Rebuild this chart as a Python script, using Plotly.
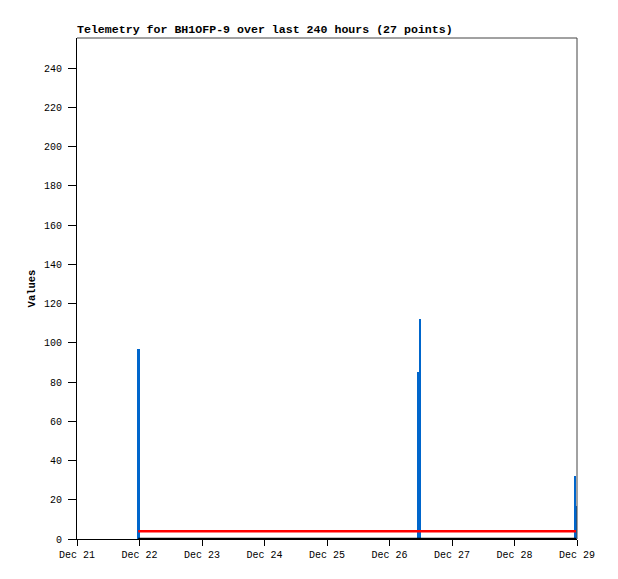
import plotly.graph_objects as go

# ---- data ----
times = [
    "2023-12-21 23:30", "2023-12-21 23:50",
    "2023-12-26 10:49", "2023-12-26 11:08", "2023-12-26 11:43",
    "2023-12-28 23:14", "2023-12-28 23:37",
]
blue_values = [97, 97, 28, 85, 112, 32, 17]
red_values = [4, 4, 4, 4, 4, 4, 4]
black_values = [0, 0, 0, 0, 0, 0, 0]

tick_dates = ["2023-12-21", "2023-12-22", "2023-12-23", "2023-12-24", "2023-12-25",
              "2023-12-26", "2023-12-27", "2023-12-28", "2023-12-29"]
tick_labels = ["Dec 21", "Dec 22", "Dec 23", "Dec 24", "Dec 25",
               "Dec 26", "Dec 27", "Dec 28", "Dec 29"]
y_ticks = [0, 20, 40, 60, 80, 100, 120, 140, 160, 180, 200, 220, 240]

title_text = "Telemetry for BH1OFP-9 over last 240 hours (27 points)"
y_title = "Values"

FONT = "Liberation Mono"
BAR_WIDTH_MS = 52 * 60 * 1000  # a little over 2 px at this scale

fig = go.Figure()
fig.add_trace(go.Bar(x=times, y=blue_values, width=[BAR_WIDTH_MS] * len(times),
                     marker=dict(color="#0066cc", line=dict(width=0)),
                     hoverinfo="x+y", showlegend=False))
fig.add_trace(go.Scatter(x=times, y=red_values, mode="lines",
                         line=dict(color="#ff0000", width=2.5), showlegend=False))
fig.add_trace(go.Scatter(x=times, y=black_values, mode="lines",
                         line=dict(color="#000000", width=2.5), showlegend=False))

# page body has an 8px margin, so the figure is shrunk by 8px on each side
fig.update_layout(
    width=610, height=571,
    margin=dict(l=69, r=41, t=30, b=40),
    paper_bgcolor="white", plot_bgcolor="white",
    barmode="overlay", bargap=0,
    font=dict(family=FONT, size=10, color="black"),
    showlegend=False,
    annotations=[dict(text="<b>" + title_text + "</b>", xref="paper", yref="paper",
                      x=0, y=1, xanchor="left", yanchor="bottom", yshift=0, xshift=-2,
                      showarrow=False, font=dict(family=FONT, size=11.6, color="black"))],
    shapes=[dict(type="line", xref="paper", yref="paper", x0=0, x1=1, y0=1, y1=1,
                 line=dict(color="#444444", width=1)),
            dict(type="line", xref="paper", yref="paper", x0=1, x1=1, y0=0, y1=1,
                 line=dict(color="#444444", width=1))],
)

fig.update_xaxes(
    type="date", range=["2023-12-21 00:00", "2023-12-29 00:00"],
    tickvals=tick_dates, ticktext=tick_labels,
    showgrid=False, zeroline=False,
    showline=True, linecolor="black", linewidth=1,
    ticks="outside", ticklen=6, tickcolor="black", tickwidth=1,
    tickfont=dict(family=FONT, size=10, color="black"),
)
fig.update_yaxes(
    range=[0, 255.3], tickvals=y_ticks,
    showgrid=False, zeroline=False,
    showline=True, linecolor="black", linewidth=1,
    ticks="outside", ticklen=8, tickcolor="black", tickwidth=1,
    ticklabelstandoff=4,
    tickfont=dict(family=FONT, size=10, color="black"),
    title=dict(text="<b>" + y_title + "</b>", font=dict(family=FONT, size=10.5, color="black"),
               standoff=6),
)

fig.write_html("out.html")
